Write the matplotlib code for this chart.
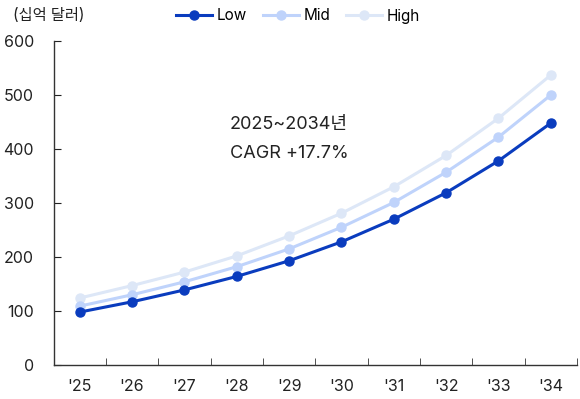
import matplotlib.pyplot as plt
import numpy as np

plt.rcParams['font.family'] = ['Inter', 'Noto Sans CJK KR', 'DejaVu Sans']

years = ["'25", "'26", "'27", "'28", "'29", "'30", "'31", "'32", "'33", "'34"]
low = [98, 117, 139, 164, 193, 228, 270, 319, 378, 448]
mid = [109, 130, 154, 182, 215, 255, 301, 357, 422, 500]
high = [124, 147, 172, 202, 239, 281, 330, 388, 457, 537]

fig = plt.figure(figsize=(5.8, 3.99), dpi=100)
ax = fig.add_axes([53.5 / 580, 34 / 399, 523.5 / 580, 324 / 399])

x = np.arange(len(years))
series = [('High', high, '#dde7f7'), ('Mid', mid, '#bfd3fb'), ('Low', low, '#0a3cbe')]
handles = {}
for name, vals, col in series:
    h, = ax.plot(x, vals, color=col, lw=2.2, marker='o', markersize=6.5, label=name)
    handles[name] = h

ax.set_xlim(-0.5, 9.5)
ax.set_ylim(0, 600)
ax.set_yticks(range(0, 601, 100))
ax.set_xticks(x)
ax.set_xticklabels(years)
ax.set_xticks(np.arange(-0.5, 10, 1), minor=True)
ax.tick_params(axis='x', which='major', length=0, pad=10, labelsize=11.5, colors='#222222')
ax.tick_params(axis='x', which='minor', length=5, direction='in', color='#333333')
ax.tick_params(axis='y', length=5, direction='in', pad=14, labelsize=11.5, colors='#222222')
for s in ['top', 'right']:
    ax.spines[s].set_visible(False)
for s in ['left', 'bottom']:
    ax.spines[s].set_color('#333333')
    ax.spines[s].set_linewidth(1.0)

ax.text(2.87, 446, '2025~2034년', fontsize=13, color='#222222', va='center')
ax.text(2.87, 391, 'CAGR +17.7%', fontsize=13, color='#222222', va='center')

fig.text(13 / 580, 1 - 16 / 399, '(십억 달러)', fontsize=11, color='#222222', va='center')
fig.legend([handles['Low'], handles['Mid'], handles['High']], ['Low', 'Mid', 'High'],
           loc='center', bbox_to_anchor=(298 / 580, 1 - 16 / 399), ncol=3, frameon=False,
           fontsize=11, handlelength=2.4, handletextpad=0.3, columnspacing=1.0,
           borderaxespad=0)

fig.savefig('out.png', dpi=100)
